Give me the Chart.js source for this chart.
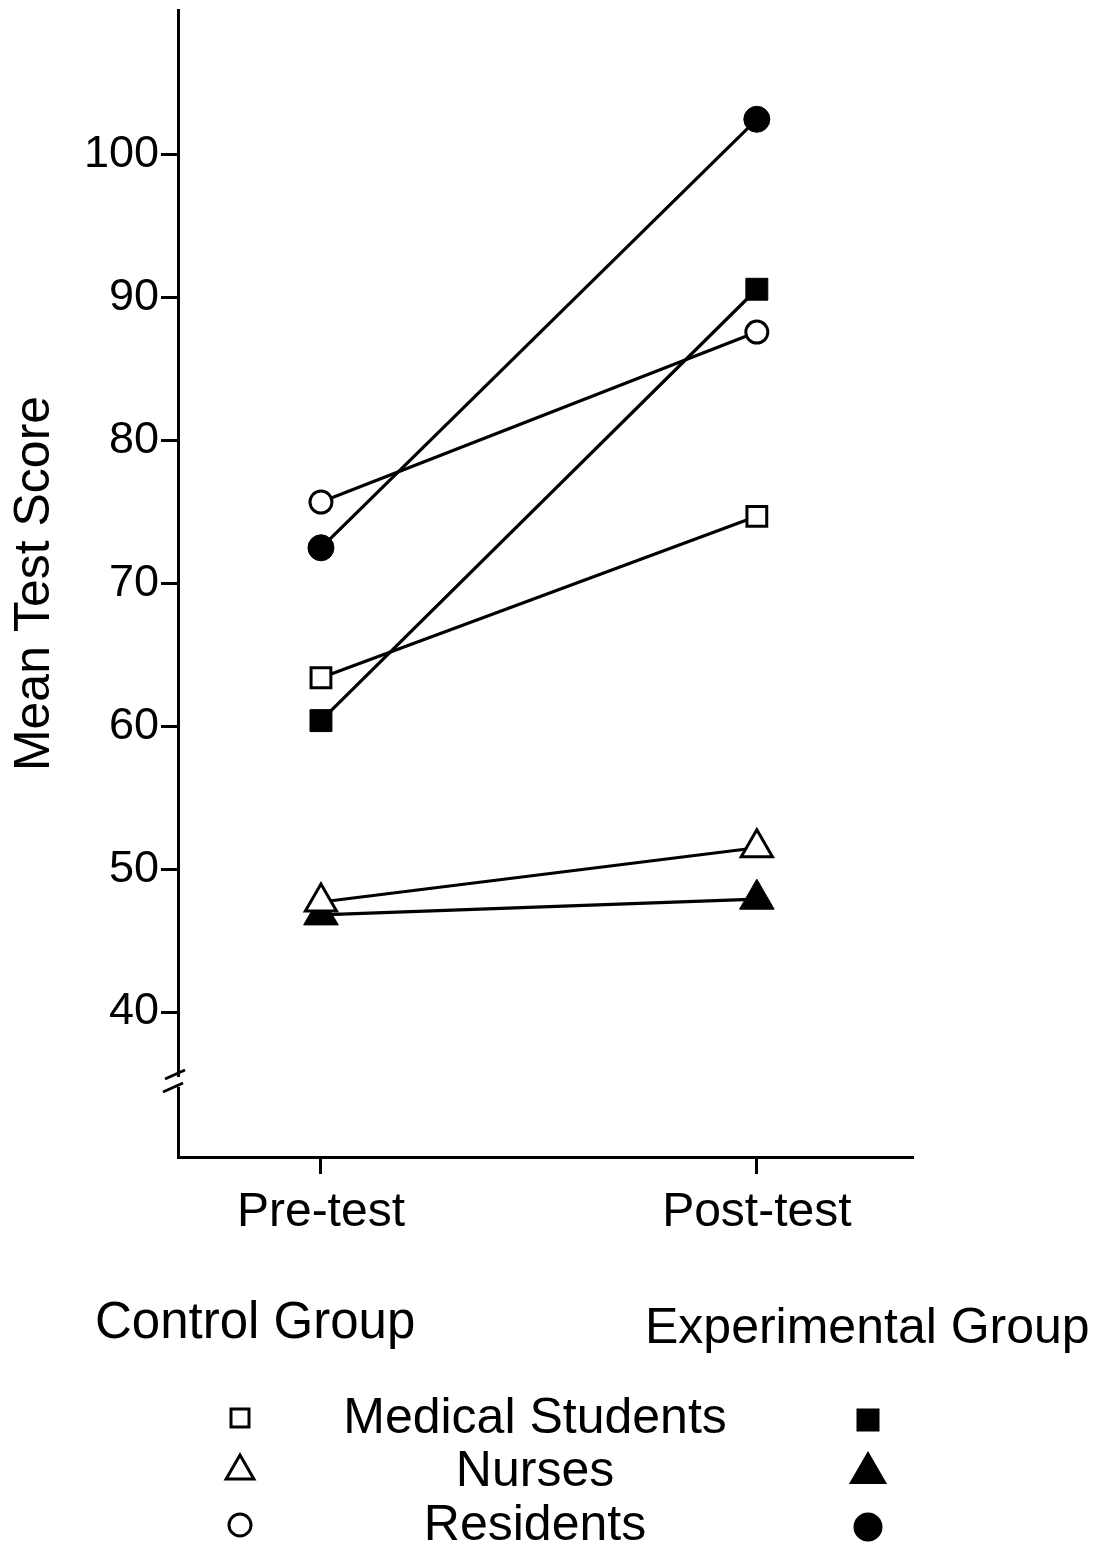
<!DOCTYPE html>
<html>
<head>
<meta charset="utf-8">
<script src="https://cdn.jsdelivr.net/npm/chart.js@4.4.0/dist/chart.umd.min.js"></script>
<style>
html, body { margin: 0; padding: 0; background: #fff; }
#wrap { width: 1103px; height: 1547px; }
</style>
</head>
<body>
<div id="wrap"><canvas id="chart" width="1103" height="1547"></canvas></div>
<script>
const phases = ["Pre-test", "Post-test"];
const yTicks = [40, 50, 60, 70, 80, 90, 100];
const groupNames = ["Medical Students", "Nurses", "Residents"];
const conditionNames = ["Control Group", "Experimental Group"];

// control group (open markers)
const control_med = [63.4, 74.7];
const control_nurses = [47.7, 51.5];
const control_residents = [75.7, 87.6];

// experimental group (filled markers)
const exp_med = [60.4, 90.6];
const exp_nurses = [46.8, 47.9];
const exp_residents = [72.5, 102.5];

const FONT = "'Liberation Sans', Arial, Helvetica, sans-serif";

const styles = ["rect", "triangle", "circle"];
const openRadius = [14, 18, 11];
const fillRadius = [15.5, 20, 13];

const makeSet = (label, values, idx, filled) => ({
    label: label,
    data: values.map((v, i) => ({ x: i, y: v })),
    borderColor: "#000",
    backgroundColor: filled ? "#000" : "#fff",
    borderWidth: 3.2,
    pointStyle: styles[idx],
    pointRadius: filled ? fillRadius[idx] : openRadius[idx],
    pointBorderWidth: filled ? 1 : 3,
    pointBackgroundColor: filled ? "#000" : "#fff",
    pointBorderColor: "#000",
    tension: 0,
});

const datasets = [
    makeSet("Control Medical Students", control_med, 0, false),
    makeSet("Control Nurses", control_nurses, 1, false),
    makeSet("Control Residents", control_residents, 2, false),
    makeSet("Experimental Medical Students", exp_med, 0, true),
    makeSet("Experimental Nurses", exp_nurses, 1, true),
    makeSet("Experimental Residents", exp_residents, 2, true),
];

// small marker painter for the bottom key
function marker(ctx, style, x, y, r, filled) {
    ctx.save();
    ctx.beginPath();
    if (style === "circle") {
        ctx.arc(x, y, r, 0, Math.PI * 2);
    } else if (style === "rect") {
        ctx.rect(x - r, y - r, 2 * r, 2 * r);
    } else {
        const h = r * 1.5;
        const w = r * Math.sqrt(3);
        ctx.moveTo(x, y - r);
        ctx.lineTo(x + w / 2, y + h - r);
        ctx.lineTo(x - w / 2, y + h - r);
        ctx.closePath();
    }
    ctx.lineWidth = 3;
    ctx.strokeStyle = "#000";
    ctx.fillStyle = filled ? "#000" : "#fff";
    ctx.fill();
    ctx.stroke();
    ctx.restore();
}

const extras = {
    id: "extras",
    afterDraw(chart) {
        const ctx = chart.ctx;
        const area = chart.chartArea;
        ctx.save();

        // axis break on the y axis
        ctx.fillStyle = "#fff";
        ctx.fillRect(area.left - 4, 1077, 8, 10);
        ctx.strokeStyle = "#000";
        ctx.lineWidth = 3;
        ctx.beginPath();
        ctx.moveTo(area.left - 13, 1079);
        ctx.lineTo(area.left + 7, 1070);
        ctx.moveTo(area.left - 15, 1092);
        ctx.lineTo(area.left + 5, 1083);
        ctx.stroke();

        // key
        ctx.fillStyle = "#000";
        ctx.textBaseline = "alphabetic";
        ctx.textAlign = "left";
        ctx.font = "51px " + FONT;
        ctx.fillText(conditionNames[0], 95, 1338);
        ctx.font = "50px " + FONT;
        ctx.fillText(conditionNames[1], 645, 1343);

        const rowY = [1418, 1471, 1525];
        ctx.textAlign = "center";
        groupNames.forEach((name, i) => {
            ctx.fillText(name, 535, rowY[i] + 15);
        });
        const keyOpen = [9, 16, 11];
        const keyFill = [10, 19, 13];
        styles.forEach((s, i) => {
            marker(ctx, s, 240, rowY[i], keyOpen[i], false);
            marker(ctx, s, 868, rowY[i] + 2, keyFill[i], true);
        });
        ctx.restore();
    },
};

new Chart(document.getElementById("chart"), {
    type: "line",
    data: { datasets: datasets },
    plugins: [extras],
    options: {
        responsive: false,
        animation: false,
        clip: false,
        layout: { autoPadding: false, padding: { top: 10, right: 191, left: 0, bottom: 0 } },
        plugins: { legend: { display: false }, tooltip: { enabled: false } },
        scales: {
            x: {
                type: "linear",
                min: -0.328,
                max: 1.356,
                afterBuildTicks: (scale) => {
                    scale.ticks = phases.map((p, i) => ({ value: i }));
                },
                afterFit: (scale) => {
                    scale.height = 390;
                    scale.paddingLeft = 0;
                    scale.paddingRight = 0;
                },
                ticks: {
                    color: "#000",
                    font: { family: FONT, size: 48 },
                    padding: 10,
                    maxRotation: 0,
                    callback: (v) => phases[v],
                },
                grid: {
                    drawOnChartArea: false,
                    drawTicks: true,
                    tickLength: 17,
                    color: "#000",
                    lineWidth: 3,
                },
                border: { display: true, color: "#000", width: 3 },
            },
            y: {
                type: "linear",
                min: 29.85,
                max: 110.15,
                afterBuildTicks: (scale) => {
                    scale.ticks = yTicks.map((v) => ({ value: v }));
                },
                afterFit: (scale) => {
                    scale.width = 178;
                    scale.paddingTop = 0;
                    scale.paddingBottom = 0;
                },
                ticks: {
                    color: "#000",
                    font: { family: FONT, size: 45 },
                    padding: 2,
                    callback: (v) => String(v),
                },
                grid: {
                    drawOnChartArea: false,
                    drawTicks: true,
                    tickLength: 17,
                    color: "#000",
                    lineWidth: 3,
                },
                border: { display: true, color: "#000", width: 3 },
                title: {
                    display: true,
                    text: "Mean Test Score",
                    color: "#000",
                    font: { family: FONT, size: 50 },
                    padding: { top: 5, bottom: 0 },
                },
            },
        },
    },
});
</script>
</body>
</html>
